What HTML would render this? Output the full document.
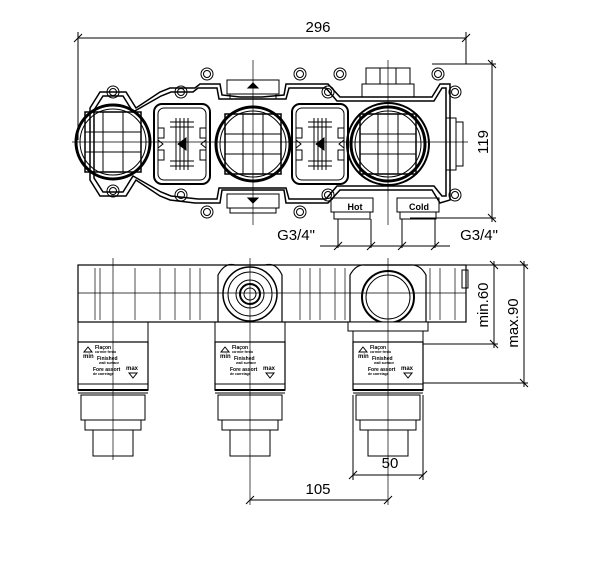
<!DOCTYPE html>
<html><head><meta charset="utf-8"><style>
html,body{margin:0;padding:0;background:#fff;width:604px;height:573px;overflow:hidden}
svg{display:block}
text{font-family:"Liberation Sans",sans-serif;fill:#000}
</style></head><body>
<svg width="604" height="573" viewBox="0 0 604 573" xmlns="http://www.w3.org/2000/svg" fill="none" stroke="#000" stroke-width="1">
<defs>
<g id="col">
  <rect x="-35" y="0" width="70" height="20"/>
  <rect x="-35" y="20" width="70" height="48" stroke-width="1.2"/>
  <line x1="-35" y1="62" x2="35" y2="62"/>
  <line x1="-35" y1="68" x2="35" y2="68" stroke-width="2"/>
  <line x1="-35" y1="71" x2="35" y2="71"/>
  <rect x="-32" y="73" width="64" height="25"/>
  <rect x="-28" y="98" width="56" height="10"/>
  <rect x="-20" y="108" width="40" height="26"/>
  <path d="M-25 25 l-4 5 h8 z"/>
  <path d="M20 56 l-4 -5 h8 z"/>
  <g stroke="none" fill="#000" font-size="5" font-weight="bold">
    <text x="-30" y="36" font-size="6">min</text>
    <text x="-18" y="27">Flaçon</text>
    <text x="-18" y="31" font-size="3.5">ca·min·ferdo</text>
    <text x="-16" y="38">Finished</text>
    <text x="-14" y="42" font-size="3.5">wall surface</text>
    <text x="-20" y="49">Fore assort</text>
    <text x="-20" y="53" font-size="3.5">de carrelage</text>
    <text x="13" y="48" font-size="6">max</text>
  </g>
</g>
<g id="big">
  <circle r="37" stroke-width="3"/>
  <circle r="33"/>
  <line x1="-28" y1="-10" x2="28" y2="-10"/><line x1="-28" y1="10" x2="28" y2="10"/>
  <line x1="-10" y1="-30" x2="-10" y2="30"/><line x1="10" y1="-30" x2="10" y2="30"/>
  <rect x="-28" y="-30" width="56" height="60" stroke-width="1.5"/>
</g>
<g id="ear"><circle r="6"/><circle r="3.5"/></g>
<g id="valve">
  <rect x="-28" y="-40" width="56" height="80" rx="8" stroke-width="2"/>
  <rect x="-24" y="-36" width="48" height="72" rx="6"/>
  <line x1="-6" y1="-26" x2="-6" y2="26"/><line x1="-2" y1="-26" x2="-2" y2="26"/>
  <line x1="2" y1="-26" x2="2" y2="26"/><line x1="6" y1="-26" x2="6" y2="26"/>
  <line x1="-12" y1="-22" x2="12" y2="-22"/><line x1="-12" y1="22" x2="12" y2="22"/>
  <line x1="-12" y1="-17" x2="12" y2="-17"/><line x1="-12" y1="17" x2="12" y2="17"/>
  <rect x="-24" y="-16" width="6" height="10"/><rect x="18" y="-16" width="6" height="10"/>
  <rect x="-24" y="6" width="6" height="10"/><rect x="18" y="6" width="6" height="10"/>
  <path d="M-24 -4 l5 4 l-5 4 M24 -4 l-5 4 l5 4"/>
  <path d="M-4 0 l8 -6 v12 z" fill="#000"/>
</g>
</defs>

<!-- 296 dimension -->
<line x1="78" y1="38" x2="466" y2="38"/>
<line x1="74" y1="42" x2="82" y2="34"/><line x1="462" y1="42" x2="470" y2="34"/>
<line x1="78" y1="32" x2="78" y2="140"/>
<line x1="466" y1="32" x2="466" y2="64"/>
<text x="318" y="32" font-size="15" stroke="none" text-anchor="middle">296</text>

<!-- 119 dimension -->
<line x1="432" y1="64" x2="496" y2="64"/>
<line x1="410" y1="218" x2="496" y2="218"/>
<line x1="492" y1="60" x2="492" y2="222"/>
<line x1="488" y1="60" x2="496" y2="68"/><line x1="488" y1="214" x2="496" y2="222"/>
<text transform="translate(488,142) rotate(-90)" font-size="15" stroke="none" text-anchor="middle">119</text>

<!-- top view -->
<g stroke-width="1.5">
<path d="M90 108 L100 92 L126 92 L136 108 L160 92 L170 88 L195 88 L200 84 L220 84 L222 95 L240 97 L262 97 L284 95 L286 84 L300 84 L312 84 L328 84 L340 97 L432 97 L440 84 L450 84 L450 200 L440 203 L432 190 L340 190 L328 203 L300 203 L286 203 L284 190 L262 190 L240 190 L222 190 L220 203 L195 203 L170 200 L160 196 L136 180 L126 196 L100 196 L90 180 Z"/>
<path d="M94 110 L103 96 L123 96 L133 112 L161 96 L171 92 L193 92 L198 88 L217 88 L219 99 L286 99 L289 88 L326 88 L337 101 L434 101 L442 88 L446 88 L446 196 L442 196 L434 186 L337 186 L326 199 L289 199 L286 188 L219 188 L217 199 L198 199 L171 196 L161 192 L133 176 L123 192 L103 192 L94 178 Z"/>
</g>
<use href="#valve" x="182" y="144"/>
<use href="#valve" x="320" y="144"/>
<use href="#big" x="113" y="142"/>
<use href="#big" x="253" y="144"/>
<use href="#big" x="388" y="144"/>
<circle cx="388" cy="144" r="41" stroke-width="2"/>
<use href="#ear" x="113" y="92"/><use href="#ear" x="113" y="191"/>
<use href="#ear" x="181" y="92"/><use href="#ear" x="181" y="195"/>
<use href="#ear" x="207" y="74"/><use href="#ear" x="207" y="212"/>
<use href="#ear" x="300" y="74"/><use href="#ear" x="300" y="212"/>
<use href="#ear" x="328" y="92"/><use href="#ear" x="328" y="195"/>
<use href="#ear" x="340" y="74"/>
<use href="#ear" x="438" y="74"/>
<use href="#ear" x="455" y="92"/><use href="#ear" x="455" y="195"/>
<!-- connectors top/bottom of middle -->
<rect x="227" y="80" width="52" height="14"/><rect x="230" y="94" width="46" height="5"/>
<path d="M248 88 l5 -5 l5 5 z" fill="#000"/>
<rect x="227" y="194" width="52" height="14"/><rect x="230" y="208" width="46" height="5"/>
<path d="M248 198 l5 5 l5 -5 z" fill="#000"/>
<!-- right top nut -->
<rect x="366" y="68" width="44" height="16"/><line x1="380" y1="68" x2="380" y2="84"/><line x1="396" y1="68" x2="396" y2="84"/>
<rect x="362" y="84" width="52" height="13"/>
<!-- right side connector -->
<rect x="446" y="118" width="10" height="52"/><rect x="456" y="122" width="7" height="44"/>
<!-- hot / cold -->
<rect x="331" y="198" width="42" height="14"/><rect x="334" y="212" width="36" height="7"/>
<rect x="397" y="198" width="42" height="14"/><rect x="400" y="212" width="36" height="7"/>
<text x="355" y="210" font-size="9" stroke="none" font-weight="bold" text-anchor="middle">Hot</text>
<text x="419" y="210" font-size="9" stroke="none" font-weight="bold" text-anchor="middle">Cold</text>
<!-- G3/4 dims -->
<line x1="338" y1="219" x2="338" y2="248"/><line x1="371" y1="219" x2="371" y2="248"/>
<line x1="402" y1="219" x2="402" y2="248"/><line x1="435" y1="219" x2="435" y2="248"/>
<line x1="320" y1="246" x2="450" y2="246"/>
<line x1="334" y1="250" x2="342" y2="242"/><line x1="367" y1="250" x2="375" y2="242"/>
<line x1="398" y1="250" x2="406" y2="242"/><line x1="431" y1="250" x2="439" y2="242"/>
<text x="296" y="240" font-size="15" stroke="none" text-anchor="middle">G3/4"</text>
<text x="479" y="240" font-size="15" stroke="none" text-anchor="middle">G3/4"</text>
<!-- centerlines top -->
<line x1="72" y1="142" x2="468" y2="142" stroke-width="0.7"/>
<line x1="253" y1="60" x2="253" y2="225" stroke-width="0.7"/>
<line x1="388" y1="60" x2="388" y2="225" stroke-width="0.7"/>

<!-- bottom view body -->
<rect x="78" y="265" width="388" height="57" stroke-width="1.2"/>
<g stroke-width="0.7">
<line x1="95" y1="268" x2="95" y2="320"/><line x1="100" y1="268" x2="100" y2="320"/>
<line x1="135" y1="268" x2="135" y2="320"/><line x1="160" y1="268" x2="160" y2="320"/>
<line x1="175" y1="268" x2="175" y2="320"/><line x1="190" y1="268" x2="190" y2="320"/>
<line x1="200" y1="268" x2="200" y2="320"/><line x1="300" y1="268" x2="300" y2="320"/>
<line x1="310" y1="268" x2="310" y2="320"/><line x1="320" y1="268" x2="320" y2="320"/>
<line x1="335" y1="268" x2="335" y2="320"/><line x1="345" y1="268" x2="345" y2="320"/>
<line x1="430" y1="268" x2="430" y2="320"/><line x1="440" y1="268" x2="440" y2="320"/>
<line x1="455" y1="268" x2="455" y2="320"/>
<line x1="78" y1="293" x2="466" y2="293"/>
</g>
<rect x="462" y="270" width="6" height="18"/>
<!-- middle bump -->
<path d="M218 322 V275 Q225 262 235 265 H265 Q276 262 282 275 V322" stroke-width="1.2"/>
<circle cx="250" cy="294" r="27" stroke-width="1.5"/><circle cx="250" cy="294" r="22"/>
<circle cx="250" cy="294" r="14"/><circle cx="250" cy="294" r="10" stroke-width="2"/><circle cx="250" cy="294" r="6"/>
<!-- right bump -->
<path d="M350 322 V275 Q356 264 365 265 H410 Q420 264 426 275 V322" stroke-width="1.2"/>
<circle cx="388" cy="297" r="26" stroke-width="2"/><circle cx="388" cy="297" r="22"/>
<!-- columns -->
<use href="#col" x="113" y="322"/>
<use href="#col" x="250" y="322"/>
<use href="#col" x="388" y="322"/>
<rect x="348" y="322" width="80" height="9" fill="#fff"/>
<!-- centerlines bottom -->
<g stroke-width="0.7">
<line x1="113" y1="258" x2="113" y2="460"/>
<line x1="250" y1="258" x2="250" y2="505"/>
<line x1="388" y1="258" x2="388" y2="505"/>
</g>
<!-- min.60 / max.90 -->
<line x1="423" y1="344" x2="498" y2="344"/>
<line x1="423" y1="383" x2="528" y2="383"/>
<line x1="466" y1="265" x2="528" y2="265"/>
<line x1="494" y1="261" x2="494" y2="348"/>
<line x1="490" y1="261" x2="498" y2="269"/><line x1="490" y1="340" x2="498" y2="348"/>
<line x1="524" y1="261" x2="524" y2="387"/>
<line x1="520" y1="261" x2="528" y2="269"/><line x1="520" y1="379" x2="528" y2="387"/>
<text transform="translate(488,305) rotate(-90)" font-size="15" stroke="none" text-anchor="middle">min.60</text>
<text transform="translate(518,323) rotate(-90)" font-size="15" stroke="none" text-anchor="middle">max.90</text>
<!-- 50 -->
<line x1="353" y1="395" x2="353" y2="480"/><line x1="423" y1="395" x2="423" y2="480"/>
<line x1="353" y1="475" x2="423" y2="475"/>
<line x1="349" y1="479" x2="357" y2="471"/><line x1="419" y1="479" x2="427" y2="471"/>
<text x="390" y="468" font-size="15" stroke="none" text-anchor="middle">50</text>
<!-- 105 -->
<line x1="250" y1="500" x2="388" y2="500"/>
<line x1="246" y1="504" x2="254" y2="496"/><line x1="384" y1="504" x2="392" y2="496"/>
<text x="318" y="494" font-size="15" stroke="none" text-anchor="middle">105</text>
</svg>
</body></html>
